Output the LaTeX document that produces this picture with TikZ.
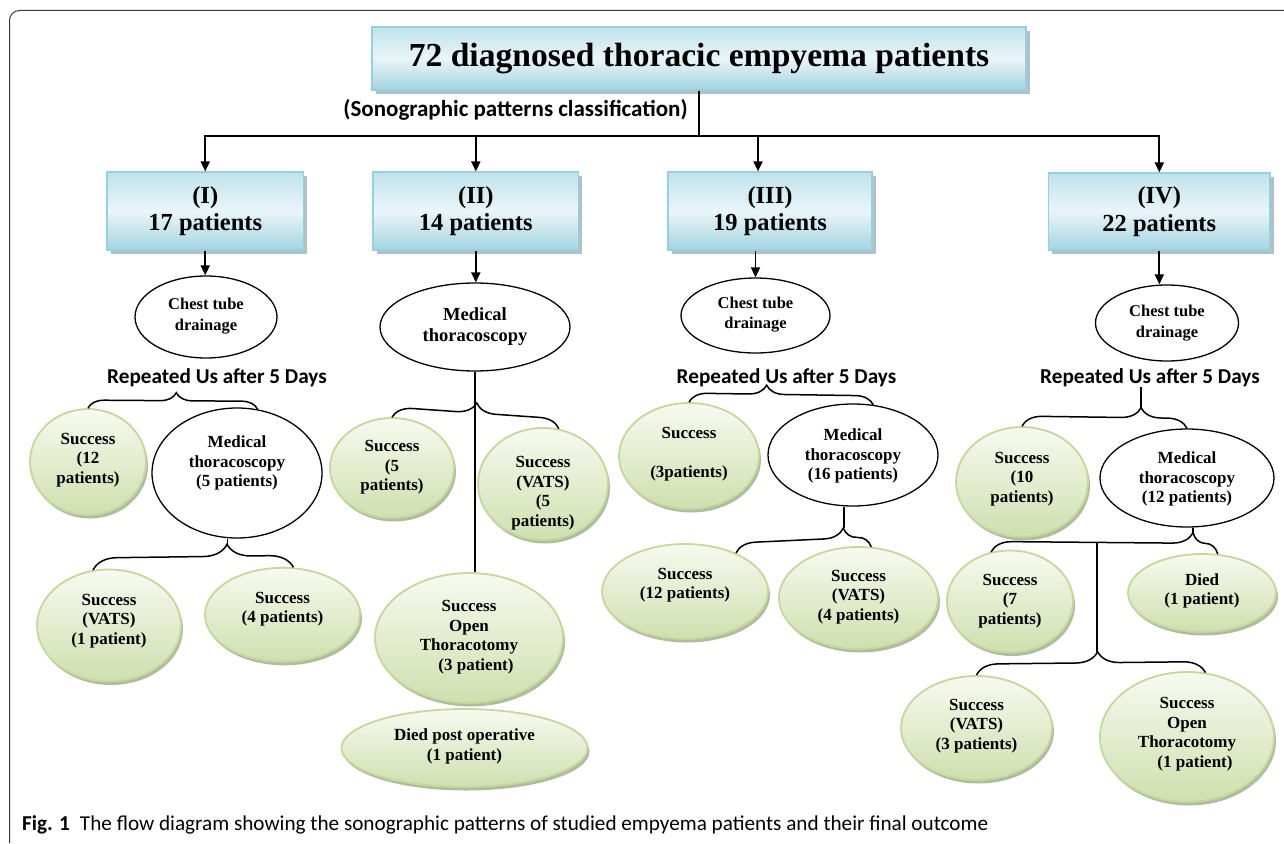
\documentclass[tikz,border=0pt]{standalone}
\usepackage{fontspec}
\setmainfont{Liberation Serif}
\newfontfamily\calfont{Carlito}
\usetikzlibrary{shapes.geometric,arrows.meta,decorations.pathreplacing,shadows,calc}
\definecolor{boxedge}{HTML}{96CFDD}
\definecolor{bluetop}{HTML}{BFE2EC}
\definecolor{bluemid}{HTML}{EAF5F8}
\definecolor{bluebot}{HTML}{A4D4E1}
\definecolor{boxshadow}{HTML}{8FA6AE}
\definecolor{gedge}{HTML}{C4D79D}
\definecolor{gtop}{HTML}{F7FAF0}
\definecolor{gbot}{HTML}{CFDFAE}
\definecolor{gshadow}{HTML}{9DAA86}
\definecolor{framecol}{HTML}{3A3A3A}
\begin{document}
\begin{tikzpicture}[x=1pt,y=-1pt,
  bluebox/.style={draw=boxedge, line width=1.2pt, top color=bluetop, bottom color=bluebot, middle color=bluemid,
    drop shadow={shadow xshift=3.5pt, shadow yshift=-4pt, fill=boxshadow, opacity=.7}, inner sep=0, align=center},
  gell/.style={ellipse, draw=gedge, line width=1.8pt, top color=gtop, bottom color=gbot,
    drop shadow={shadow xshift=2pt, shadow yshift=-3.5pt, fill=gshadow, opacity=.8}, inner sep=0},
  bell/.style={ellipse, draw=black, line width=1.3pt, fill=white, inner sep=0},
  txt/.style={font=\fontsize{17}{19.5}\selectfont\bfseries, align=center, inner sep=0},
  boxtxt/.style={font=\fontsize{24.5}{27.5}\selectfont\bfseries},
  rep/.style={font=\calfont\fontsize{21.2}{24}\selectfont\bfseries, inner sep=0},
  conn/.style={line width=1.5pt, black},
  arr/.style={line width=1.8pt, black, -{Triangle[length=10pt,width=9pt]}},
  brc/.style={conn, decorate},
  framestyle/.style={draw=framecol, line width=1pt, rounded corners=10pt}
]
\useasboundingbox (0,0) rectangle (1284,843);
\draw[framestyle] (9.5,843) -- (9.5,10.5) -- (1284,10.5);

% title
\node[bluebox, minimum width=654pt, minimum height=63pt, font=\fontsize{33.6}{36}\selectfont\bfseries] (title) at (699,58.5) {72 diagnosed thoracic empyema patients};
\node[rep, font=\calfont\fontsize{23}{26}\selectfont\bfseries] (sono) at (515.5,110) {(Sonographic patterns classification)};

% group boxes
\node[bluebox, boxtxt, minimum width=196.5pt, minimum height=78pt] (bI) at (205.25,211) {(I)\\17 patients};
\node[bluebox, boxtxt, minimum width=205.6pt, minimum height=78pt] (bII) at (475.8,211) {(II)\\14 patients};
\node[bluebox, boxtxt, minimum width=204pt, minimum height=78pt] (bIII) at (770,211) {(III)\\19 patients};
\node[bluebox, boxtxt, minimum width=221.4pt, minimum height=77pt] (bIV) at (1159.3,211.5) {(IV)\\22 patients};

\coordinate (hub) at (699,136);
\draw[conn] (title.south) -- (hub);
\draw[arr] (hub) -| (bI.north);
\draw[arr] (hub) -| (bIV.north);
\draw[arr] (bII.north |- hub) -- (bII.north);
\draw[arr] ([xshift=-12pt]bIII.north |- hub) -- ([xshift=-12pt]bIII.north);

% first treatment ellipses
\node[bell, minimum width=142pt, minimum height=82pt] (ctI) at (206,317) {};
\node[txt, font=\fontsize{16.5}{21}\selectfont\bfseries] (ctIt) at (206,316) {Chest tube\\drainage};
\node[bell, minimum width=190pt, minimum height=88pt] (mtII) at (475,327) {};
\node[txt, font=\fontsize{18.5}{21}\selectfont\bfseries] (mtIIt) at (475,326.5) {Medical\\thoracoscopy};
\node[bell, minimum width=149pt, minimum height=75pt] (ctIII) at (755.5,315.5) {};
\node[txt, font=\fontsize{16.5}{20}\selectfont\bfseries] (ctIIIt) at (755.5,315) {Chest tube\\drainage};
\node[bell, minimum width=143pt, minimum height=76pt] (ctIV) at (1167,323) {};
\node[txt, font=\fontsize{16.5}{21}\selectfont\bfseries] (ctIVt) at (1167,323) {Chest tube\\drainage};

\draw[arr] (bI.south) -- (bI.south |- ctI.north);
\draw[arr] (bII.south) -- (bII.south |- mtII.north);
\draw[arr] (ctIII.north |- bIII.south) -- (ctIII.north);
\draw[arr] (bIV.south) -- (bIV.south |- ctIV.north);

% repeated labels
\node[rep] (repI) at (217,378) {Repeated Us after 5 Days};
\node[rep] (repIII) at (786.5,378) {Repeated Us after 5 Days};
\node[rep] (repIV) at (1150,378) {Repeated Us after 5 Days};

% ---- group I
\node[gell, minimum width=116pt, minimum height=106pt] (s12) at (88,462) {};
\node[txt] (s12t) at (88,460) {Success\\(12\\patients)};
\node[bell, minimum width=170pt, minimum height=130pt] (mt5) at (237,473) {};
\node[txt] (mt5t) at (237,463) {Medical\\thoracoscopy\\(5 patients)};
\node[gell, minimum width=144pt, minimum height=112pt] (vats1) at (109,625.5) {};
\node[txt] (vats1t) at (109,621) {Success\\(VATS)\\(1 patient)};
\node[gell, minimum width=155pt, minimum height=94pt] (s4) at (282.5,614.8) {};
\node[txt] (s4t) at (282.5,609) {Success\\(4 patients)};

\draw[brc, decoration={brace,amplitude=16pt,aspect=.52}] (s12.north) -- (mt5.72);
\draw[brc, decoration={brace,amplitude=24pt,aspect=.67}] (vats1.106) -- (s4.77);
\coordinate (tI2) at ($(vats1.106)!.67!(s4.77)+(0,-24)$);
\draw[conn] (tI2 |- mt5.south) -- (tI2);

% ---- group II
\node[gell, minimum width=124pt, minimum height=100pt] (s5) at (392,468) {};
\node[txt] (s5t) at (392,467.5) {Success\\(5\\patients)};
\node[gell, minimum width=130pt, minimum height=112pt] (svats5) at (543,484) {};
\node[txt] (svats5t) at (543,493) {Success\\(VATS)\\(5\\patients)};
\node[gell, minimum width=188pt, minimum height=130pt] (sot3) at (469,638) {};
\node[txt] (sot3t) at (469,637) {Success\\Open\\Thoracotomy\\\hspace*{14pt}(3 patient)};
\node[gell, minimum width=246pt, minimum height=78pt] (died) at (464.5,748) {};
\node[txt] (diedt) at (464.5,746.5) {Died post operative\\(1 patient)};

\draw[brc, decoration={brace,amplitude=20pt,aspect=.5}] (s5.north) -- (svats5.74);
\draw[conn] (mtII.south) -- (mtII.south |- sot3.north);

% ---- group III
\node[gell, minimum width=140pt, minimum height=106pt] (s3) at (689,456) {};
\node[txt] (s3t) at (689,454) {Success\\[19.5pt](3patients)};
\node[bell, minimum width=170pt, minimum height=102pt] (mt16) at (853,455) {};
\node[txt] (mt16t) at (853,456) {Medical\\thoracoscopy\\(16 patients)};
\node[gell, minimum width=166pt, minimum height=95pt] (s12b) at (685,591.5) {};
\node[txt] (s12bt) at (685,585) {Success\\(12 patients)};
\node[gell, minimum width=159pt, minimum height=102pt] (svats4) at (858.5,598) {};
\node[txt] (svats4t) at (858.5,597) {Success\\(VATS)\\(4 patients)};

\draw[brc, decoration={brace,amplitude=18pt,aspect=.42}] (s3.north) -- (mt16.68);
\draw[brc, decoration={brace,amplitude=20pt,aspect=.80}] (s12b.37) -- (svats4.76);
\coordinate (tIII2) at ($(s12b.37)!.80!(svats4.76)+(0,-20)$);
\draw[conn] (tIII2 |- mt16.south) -- (tIII2);

% ---- group IV
\node[gell, minimum width=132pt, minimum height=110pt] (s10) at (1022,482) {};
\node[txt] (s10t) at (1022,479) {Success\\(10\\patients)};
\node[bell, minimum width=174pt, minimum height=98pt] (mt12) at (1187,478) {};
\node[txt] (mt12t) at (1187,479) {Medical\\thoracoscopy\\(12 patients)};
\node[gell, minimum width=126pt, minimum height=102pt] (s7) at (1010,601.5) {};
\node[txt] (s7t) at (1010,601) {Success\\(7\\patients)};
\node[gell, minimum width=148pt, minimum height=78pt] (died1) at (1202,593) {};
\node[txt] (died1t) at (1202,591) {Died\\(1 patient)};
\node[gell, minimum width=151pt, minimum height=104pt] (svats3) at (976.5,728) {};
\node[txt] (svats3t) at (976.5,726) {Success\\(VATS)\\(3 patients)};
\node[gell, minimum width=174pt, minimum height=130pt] (sot1) at (1187,737) {};
\node[txt] (sot1t) at (1187,734) {Success\\Open\\Thoracotomy\\\hspace*{16pt}(1 patient)};

\draw[brc, decoration={brace,amplitude=20pt,aspect=.72}] (s10.north) -- (mt12.north);
\coordinate (tIV) at ($(s10.north)!.72!(mt12.north)+(0,-20)$);
\draw[conn] (tIV |- repIV.south) -- (tIV);
\draw[brc, decoration={brace,amplitude=21pt,aspect=.89}] (s7.111) -- (died1.68);
\coordinate (tIV2) at ($(s7.111)!.89!(died1.68)+(0,-21)$);
\draw[conn] (tIV2 |- mt12.south) -- (tIV2);
\draw[brc, decoration={brace,amplitude=22pt,aspect=.53}] (svats3.north) -- (sot1.74);
\coordinate (tIV3) at ($(svats3.north)!.53!(sot1.74)+(0,-22)$);
\coordinate (jIV) at ($(s7.111)!.467!(died1.68)+(0,-10.5)$);
\draw[conn] (jIV) -- (jIV |- tIV3);

% caption
\node[anchor=base west, inner sep=0, font=\calfont\fontsize{21.2}{24}\selectfont] (cap) at (22,830)
  {\textbf{Fig. 1}\hspace{10pt}The flow diagram showing the sonographic patterns of studied empyema patients and their final outcome};
\end{tikzpicture}
\end{document}
